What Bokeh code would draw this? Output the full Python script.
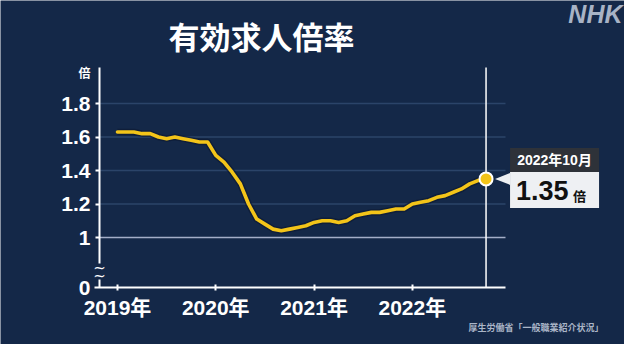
from bokeh.plotting import figure
from bokeh.models import FixedTicker, CustomJSTickFormatter, Range1d
from bokeh.core.properties import value
from bokeh.embed import file_html
from bokeh.resources import INLINE

# ---- data ----
year_ticks = [0, 12, 24, 36]
year_labels = ["2019年", "2020年", "2021年", "2022年"]
grid_values = [1.2, 1.4, 1.6, 1.8]
ratio = [
    1.63, 1.63, 1.63, 1.62, 1.62, 1.60, 1.59, 1.60, 1.59, 1.58, 1.57, 1.57,  # 2019
    1.49, 1.45, 1.39, 1.32, 1.20, 1.11, 1.08, 1.05, 1.04, 1.05, 1.06, 1.07,  # 2020
    1.09, 1.10, 1.10, 1.09, 1.10, 1.13, 1.14, 1.15, 1.15, 1.16, 1.17, 1.17,  # 2021
    1.20, 1.21, 1.22, 1.24, 1.25, 1.27, 1.29, 1.32, 1.34, 1.35,              # 2022
]
months = list(range(len(ratio)))
title_text = "有効求人倍率"
unit_text = "倍"
zero_label = "0"
source_text = "厚生労働省「一般職業紹介状況」"

# ---- styling / geometry ----
BG = "#142848"
GOLD = "#f3c419"
FAINT = "#2b4469"
BRIGHT = "#a4aec8"
FONT = "Liberation Sans, Noto Sans CJK JP"
CJK = "Noto Sans CJK JP"

KX = 8.19      # px per month
KY = 167.5     # px per unit
X0PX, Y1PX = 125, 245   # page pixel of month 0 / value 1


def mx(px):
    return (px - X0PX) / KX


def vy(py):
    return 1 + (Y1PX - py) / KY


W, H = 624, 344
x_axis_at = vy(295)
y_axis_at = mx(107)

p = figure(width=W, height=H, x_range=Range1d(mx(8), mx(8 + W)),
           y_range=Range1d(vy(8 + H), vy(8)),
           output_backend="svg", toolbar_location=None, min_border=0,
           background_fill_color=BG, border_fill_color=BG,
           outline_line_color=None)
p.xgrid.visible = False
p.ygrid.visible = False

# x axis
xa = p.xaxis[0]
xa.fixed_location = x_axis_at
xa.ticker = FixedTicker(ticks=year_ticks)
xa.major_label_overrides = dict(zip(year_ticks, year_labels))
xa.bounds = (mx(102), mx(513))
xa.axis_line_color = "white"
xa.axis_line_width = 2
xa.major_tick_line_color = "white"
xa.major_tick_line_width = 2
xa.major_tick_in = 3
xa.major_tick_out = 3
xa.minor_tick_line_color = None
xa.major_label_text_color = "white"
xa.major_label_text_font = FONT
xa.major_label_text_font_size = "21px"
xa.major_label_text_font_style = "bold"
xa.major_label_standoff = 5

# y axis (broken between 0 and 1)
ya = p.yaxis[0]
ya.fixed_location = y_axis_at
ya.ticker = FixedTicker(ticks=[1.0] + grid_values)
ya.formatter = CustomJSTickFormatter(code="""
if (Math.abs(tick - 1) < 1e-6) { return '1'; }
return tick.toFixed(1);
""")
ya.bounds = (vy(271), vy(75))
ya.axis_line_color = "white"
ya.axis_line_width = 2
ya.major_tick_line_color = "white"
ya.major_tick_line_width = 2
ya.major_tick_in = 0
ya.major_tick_out = 4
ya.minor_tick_line_color = None
ya.major_label_text_color = "white"
ya.major_label_text_font = FONT
ya.major_label_text_font_size = "21px"
ya.major_label_text_font_style = "bold"
ya.major_label_standoff = 5

# lower stub of the y axis, the break marks and the zero label
p.segment(x0=[y_axis_at], x1=[y_axis_at], y0=[vy(287)], y1=[x_axis_at],
          line_color="white", line_width=2)
p.text(x=[y_axis_at, y_axis_at], y=[vy(275), vy(283)], text=["~", "~"],
       text_font=value("DejaVu Sans"), text_font_size="15px",
       text_color="white", text_align="center", text_baseline="middle")
p.text(x=[mx(98)], y=[x_axis_at], text=[zero_label],
       text_font=value(FONT), text_font_size="21px", text_font_style="bold",
       text_color="white", text_align="right", text_baseline="middle")

# grid lines
gx1 = mx(513)
p.segment(x0=[y_axis_at] * len(grid_values), x1=[gx1] * len(grid_values),
          y0=grid_values, y1=grid_values, line_color=FAINT, line_width=1.3)
p.segment(x0=[y_axis_at], x1=[gx1], y0=[1.0], y1=[1.0], line_color=BRIGHT, line_width=1.6)

# vertical marker at latest month
last_x, last_y = months[-1], ratio[-1]
p.segment(x0=[last_x], x1=[last_x], y0=[x_axis_at], y1=[vy(75)], line_color="white", line_width=1.5)

# series
p.line(months, ratio, line_color="#0b1830", line_width=6.5, line_alpha=0.6, line_join="round")
p.line(months, ratio, line_color=GOLD, line_width=3.6, line_join="round", line_cap="round")
p.scatter(x=[last_x], y=[last_y], size=13, fill_color=GOLD, line_color="white", line_width=2)

# callout
bl = last_x + 24 / KX
br = last_x + 113 / KX
ly_px = Y1PX - (last_y - 1) * KY
p.quad(left=[bl], right=[br], top=[vy(ly_px - 31)], bottom=[vy(ly_px - 7)],
       fill_color="#2e3239", line_color=None)
p.quad(left=[bl], right=[br], top=[vy(ly_px - 7)], bottom=[vy(ly_px + 29)],
       fill_color="#eef0f3", line_color=None)
p.patch(x=[last_x + 9 / KX, bl, bl], y=[last_y, last_y + 6 / KY, last_y - 6 / KY],
        fill_color="#eef0f3", line_color=None)
latest_label = f"{2019 + months[-1] // 12}年{months[-1] % 12 + 1}月"
p.text(x=[(bl + br) / 2], y=[vy(ly_px - 19)], text=[latest_label],
       text_font=value(FONT), text_font_size="14px", text_font_style="bold",
       text_color="white", text_align="center", text_baseline="middle")
p.text(x=[last_x + 30 / KX], y=[vy(ly_px + 12)], text=[f"{last_y:.2f}"],
       text_font=value(FONT), text_font_size="27px", text_font_style="bold",
       text_color="#111111", text_align="left", text_baseline="middle")
p.text(x=[last_x + 87 / KX], y=[vy(ly_px + 17)], text=[unit_text],
       text_font=value(CJK), text_font_size="13px", text_font_style="bold",
       text_color="#111111", text_align="left", text_baseline="middle")

# title, logo, unit, source
p.text(x=[mx(269)], y=[vy(43)], text=[title_text],
       text_font=value(CJK), text_font_size="31px", text_font_style="bold",
       text_color="white", text_align="center", text_baseline="middle")
p.text(x=[mx(630)], y=[vy(21)], text=["NHK"],
       text_font=value("Liberation Sans"), text_font_size="25px", text_font_style="bold italic",
       text_color="#a8b3c5", text_align="right", text_baseline="middle")
p.text(x=[mx(92)], y=[vy(80)], text=[unit_text],
       text_font=value(CJK), text_font_size="12px", text_font_style="bold",
       text_color="white", text_align="center", text_baseline="middle")
p.text(x=[mx(611)], y=[vy(335)], text=[source_text],
       text_font=value(CJK), text_font_size="9px", text_font_style="bold",
       text_color="#aab5c7", text_align="right", text_baseline="middle")

open("out.html", "w").write(file_html(p, INLINE))
